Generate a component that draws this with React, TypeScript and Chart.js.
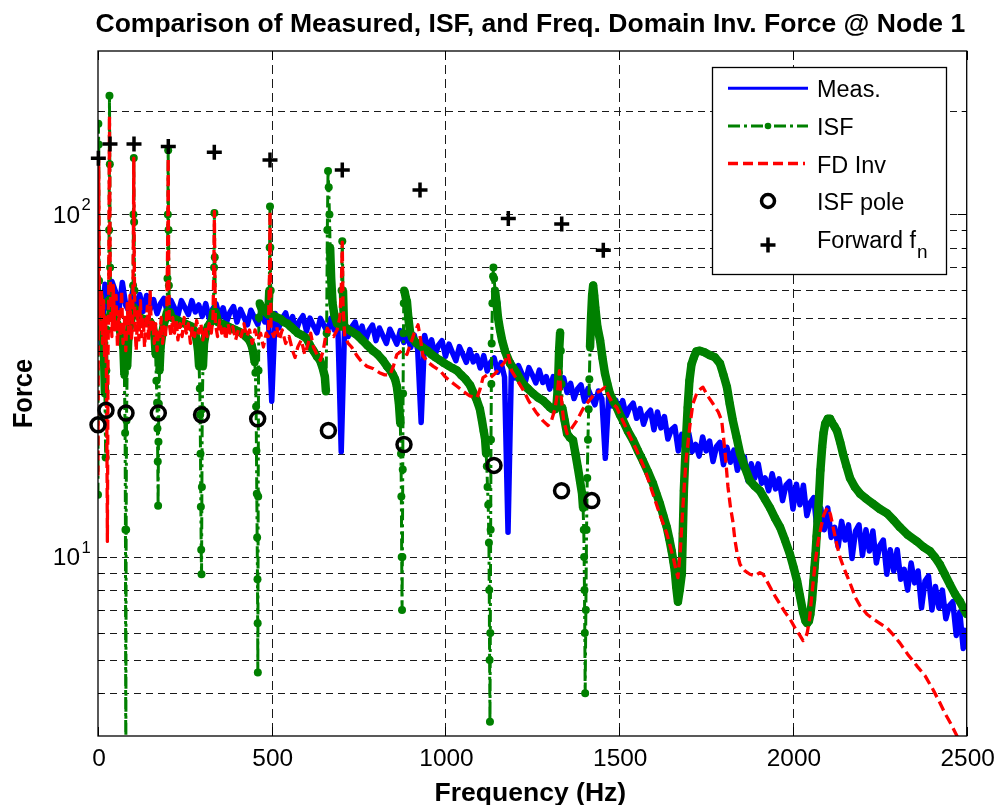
import React, { useEffect, useRef } from "react";
import { Chart, registerables } from "chart.js";
Chart.register(...registerables);

const W = 995;
const H = 805;
const FONT = '"Liberation Sans", Arial, Helvetica, sans-serif';
const SX = 1.04;

const TITLE = "Comparison of Measured, ISF, and Freq. Domain Inv. Force @ Node 1";
const X_LABEL = "Frequency (Hz)";
const Y_LABEL = "Force";
const SERIES = ["Meas.", "ISF", "FD Inv", "ISF pole", "Forward f"];
const FWD_SUB = "n";

const X_MIN = 0;
const X_MAX = 2500;
const X_TICKS = [0, 500, 1000, 1500, 2000, 2500];
const Y_MIN = 3;
const Y_MAX = 300;
const Y_MAJOR = [10, 100];
const Y_GRID = [4, 5, 6, 7, 8, 9, 10, 20, 30, 40, 50, 60, 70, 80, 90, 100, 200];

// Measured force: uniform frequency bins (0, 10, 20, ... 2500 Hz)
const MEAS_F0 = 0;
const MEAS_DF = 10;
const MEAS_V = [
  63.8, 40, 62.5, 53.1, 63.7, 59.7, 52.2, 63.3, 54.2, 52,
  59.9, 51.9, 58.4, 52.1, 58, 52.8, 56.4, 51.3, 54.9, 56.9,
  51.3, 56.1, 53.3, 50.7, 56, 53.5, 51, 56, 51.9, 54.4,
  50.4, 54.9, 49.7, 52.9, 54.8, 49.9, 53.4, 48.5, 51.9, 53.8,
  48.5, 52.8, 50.1, 47.6, 52.5, 50, 47.7, 52.3, 48.5, 50.8,
  28.5, 51.4, 46.6, 49.7, 51.6, 47, 50.3, 45.7, 48.9, 50.6,
  45.6, 49.8, 47.3, 45.1, 49.7, 47.5, 45.3, 49.7, 46, 48.3,
  20.3, 48.7, 44, 46.9, 48.5, 44.2, 47.2, 42.9, 45.9, 47.5,
  42.8, 46.6, 44.2, 42, 46.2, 44, 41.8, 45.8, 42.3, 44.3,
  40.9, 44.5, 40.3, 24.7, 44.3, 40.3, 43, 38.9, 41.5, 42.8,
  38.5, 41.8, 39.5, 37.4, 41.1, 39, 37, 40.3, 37.1, 38.7,
  35.6, 38.7, 34.9, 37, 38.1, 34.6, 36.9, 33.5, 11.8, 37,
  33.3, 36.2, 34.3, 32.5, 35.7, 34, 32.2, 35.1, 32.3, 33.6,
  30.9, 33.6, 30.3, 32.2, 33.3, 30.2, 32.1, 29, 30.9, 31.8,
  28.5, 31, 29.3, 27.8, 30.5, 29, 19.4, 29.9, 27.6, 28.7,
  26.4, 28.6, 25.8, 27.3, 28.1, 25.4, 27.1, 24.4, 26.1, 26.8,
  23.5, 26.5, 23.8, 25.7, 22.1, 23.5, 24, 20.4, 22.8, 20.8,
  23, 20.3, 21.3, 19.7, 22.4, 20.4, 21.8, 19, 21, 21.6,
  18.6, 20.9, 18.9, 20.5, 17.9, 19.1, 19.6, 16.7, 18.7, 17,
  18.7, 16.4, 17, 15.6, 17.5, 15.8, 16.9, 14.6, 16.2, 16.6,
  13.8, 16.3, 14.2, 16.2, 13.2, 14.4, 14.9, 11.8, 13.9, 12,
  13.9, 11.4, 12.2, 10.7, 12.7, 11.2, 12.4, 9.9, 11.9, 12.4,
  10.1, 12, 10.4, 11.9, 9.6, 10.8, 11.2, 8.9, 10.5, 9.1,
  10.5, 8.6, 9.2, 8, 9.6, 8.4, 9.1, 7.1, 8.5, 8.8,
  7, 8.2, 7.1, 8, 6.6, 7.2, 7.4, 5.9, 6.9, 5.4,
  6.2,
];

// ISF force [frequency Hz, force]
const ISF_PTS: [number, number][] = [
  [0, 15.2], [1, 184], [2, 160], [3, 64], [5, 58], [8, 52], [11, 48], [14, 45], [17, 40], [20, 30], [22, 19.5], [24, 35], [26, 46], [28, 50], [30, 56], [32, 90], [33, 222], [34, 140], [35, 70], [37, 56],
  [40, 52], [45, 50], [50, 49], [55, 48], [60, 47], [65, 45], [70, 43], [73, 41], [76, 34], [78, 23], [79, 12], [80, 2], [81, 12], [82, 25], [84, 36], [87, 43], [91, 47], [95, 49], [99, 52], [101, 62], [102, 100], [103, 146], [104, 95], [105, 60], [107, 53],
  [112, 51], [120, 50], [130, 49.5], [140, 49], [150, 48.5], [158, 47], [163, 44], [166, 39], [168, 32.7], [170, 28.2], [171, 23.7], [172, 19], [173, 14.1], [174, 21.7], [175, 28], [177, 35], [180, 41], [185, 45], [190, 48], [195, 50], [199, 52], [200, 65], [201, 100], [202, 154], [203, 90], [204, 62], [206, 52],
  [212, 50], [220, 49.5], [230, 49], [240, 48.5], [250, 48], [260, 47.5], [270, 47], [278, 45.5], [284, 43], [288, 40], [291, 36], [293, 31], [294, 26], [295, 20], [296, 14], [297, 10.5], [298, 8.9], [299, 16], [300, 27], [302, 36], [305, 42], [310, 45], [316, 47], [322, 48], [328, 49], [332, 52], [334, 70], [335, 101], [336, 75], [338, 52],
  [345, 48.5], [355, 48], [365, 47.5], [375, 47], [385, 46.5], [395, 46], [405, 45.5], [415, 45], [425, 44], [435, 43], [442, 41.5], [447, 39.5], [451, 37], [453, 34.5], [455, 27.5], [456, 20.4], [457, 15.3], [458, 11.4], [459, 8.6], [459.5, 6.4], [460, 4.6], [461, 15], [462, 35], [463, 50], [465, 55], [468, 54], [473, 52.5], [480, 52], [486, 51.5], [490, 51], [493, 60], [494, 80], [495, 105.5], [496, 80], [497, 60], [499, 51],
  [505, 50.5], [515, 50], [525, 49.5], [535, 48.5], [545, 48], [555, 47], [565, 46], [575, 45], [585, 44.5], [600, 43.5], [610, 41.5], [620, 40], [630, 38.5], [639, 37.5], [647, 35.5], [653, 33.5], [656, 30.4], [658, 45], [660, 90], [662, 134], [664, 120], [666, 100], [668, 80], [671, 65], [675, 55], [680, 51], [688, 48], [694, 47.5], [699, 47], [701, 60], [703, 83.5], [705, 60], [708, 47],
  [715, 46.5], [730, 45.5], [745, 44.5], [760, 43], [775, 41.5], [791, 40], [805, 39], [820, 37.5], [832, 36], [842, 35], [849, 34], [855, 33], [860, 31.5], [866, 28], [870, 24.5], [872, 20], [873, 15], [874, 10], [875, 7], [876, 10], [877, 18], [878, 30], [879, 45], [880, 55], [881, 60], [883, 59], [886, 57], [889, 55.7], [893, 50], [898, 45.3], [905, 43.5], [915, 42.2], [925, 41.5], [935, 40.8], [948, 40], [960, 39], [972, 38.2], [984, 37.5], [996, 36.8], [1008, 36.2], [1020, 35.6], [1033, 35], [1045, 34], [1058, 33], [1071, 31.7], [1080, 30.2], [1090, 28.7], [1099, 27], [1105, 25], [1110, 23.3], [1114, 22.1], [1117, 20], [1119, 18.4], [1121, 16], [1123, 14.2], [1125, 11], [1126, 8], [1127, 5], [1128, 3.3],
  [1129, 6], [1130, 12], [1131, 22], [1132, 32], [1133, 42], [1135, 55], [1137, 66], [1138, 70], [1140, 65], [1142.5, 60], [1147, 55], [1151, 50], [1157, 46], [1163, 42.9], [1171, 40], [1178, 38.3], [1186, 36.7], [1196, 35.5], [1206, 34.3], [1215, 33], [1223, 32], [1237, 31], [1252, 30], [1266, 29.2], [1281, 28.6], [1292, 27.9], [1301, 27.3], [1308, 27], [1315, 27], [1320, 28], [1324, 32], [1327, 40], [1330, 45.3], [1332, 40], [1334, 32], [1336, 27.3], [1343, 25], [1350, 22.9], [1358, 22.3], [1367, 21.9], [1374, 20], [1381, 18.2], [1387, 16.7], [1393, 15.3], [1396, 13.9], [1398, 12], [1399, 10], [1400, 8], [1401, 6], [1402, 4], [1404, 7], [1406, 12], [1408, 17], [1410, 22], [1412, 27], [1414, 33], [1416, 40.9], [1419, 50], [1422, 58], [1425, 62], [1428, 58], [1431, 53.6], [1437, 47], [1445, 42.9], [1452, 38], [1459, 34.3], [1466, 32], [1473, 30], [1483, 28.5], [1493, 27.3], [1502, 26], [1511, 25], [1525, 23.3], [1540, 21.9], [1554, 20.4], [1568, 19.1], [1583, 17.7], [1597, 16.4], [1607, 15.3], [1617, 14.3], [1627, 13.2], [1637, 12.2], [1644, 11.3], [1651, 10.4], [1656, 9.7], [1660, 9.1], [1664, 8.2], [1669, 7.4], [1674, 8], [1680, 8.9], [1683, 11.7], [1686, 15.6], [1692, 21.9], [1697, 27.3], [1702, 32.7], [1708, 36.5], [1715, 38.3], [1722, 39.8], [1732, 40], [1745, 39.6], [1761, 38.8], [1775, 38.3], [1790, 36.7], [1800, 34], [1810, 31.3], [1818, 28], [1827, 25], [1838, 22.3], [1848, 20], [1862, 18.2], [1876, 16.7], [1890, 16.1], [1905, 15.6], [1920, 14.7], [1934, 13.9], [1948, 13], [1963, 12.2], [1977, 11.2], [1991, 10.2], [2002, 9.3], [2012, 8.5], [2020, 7.7], [2029, 6.9], [2036, 6.5], [2041, 6.4], [2046, 6.5], [2050, 6.8], [2055, 7.5], [2059, 8.5], [2062, 9.3], [2065, 10.2], [2068, 11.5], [2071, 12.7], [2075, 15], [2079, 17.9], [2084, 20.9], [2088, 23], [2093, 24.5], [2100, 25.3], [2107, 25.3], [2113, 24.6], [2120, 24], [2127, 23.3], [2136, 21.6], [2144, 20], [2154, 18.4], [2164, 17], [2178, 16], [2193, 15.3], [2210, 14.8], [2230, 14.3], [2250, 13.8], [2271, 13.4], [2290, 12.8], [2308, 12.2], [2330, 11.6], [2357, 11.1], [2375, 10.7], [2394, 10.4], [2408, 10], [2423, 9.5], [2437, 8.9], [2452, 8.3], [2466, 7.8], [2481, 7.4], [2490, 7.1], [2500, 6.8],
];

// Frequency-domain inverse force [frequency Hz, force]
const FD_PTS: [number, number][] = [
  [0, 17.3], [2, 146], [4, 58], [7, 45], [10, 60], [13, 42], [16, 56], [19, 38], [22, 50], [25, 30], [27, 11.1], [29, 40], [31, 60], [33, 194], [35, 70], [37, 52], [40, 44], [44, 62], [48, 46], [52, 58], [56, 41], [60, 52], [64, 44], [68, 60], [72, 42], [76, 50], [80, 40], [84, 55], [88, 45], [92, 58], [96, 43], [100, 50], [102, 90], [103, 146], [104, 80], [106, 48],
  [110, 40], [114, 52], [118, 43], [122, 56], [126, 44], [130, 50], [134, 41], [138, 47], [142, 54], [146, 43], [150, 60], [154, 45], [158, 49], [162, 42], [166, 48], [170, 40], [174, 46], [178, 44], [182, 50], [186, 42], [190, 47], [194, 44], [198, 52], [201, 90], [202, 146], [203, 80], [205, 48],
  [210, 44], [215, 50], [220, 45], [225, 49], [230, 43], [236, 48], [242, 44], [248, 50], [254, 45], [260, 48], [266, 42], [272, 47], [278, 44], [284, 49], [290, 45], [296, 48], [302, 43], [308, 47], [314, 44], [320, 48], [326, 45], [331, 50], [334, 80], [335, 102], [336, 70], [338, 48],
  [344, 44], [350, 49], [356, 45], [362, 47], [368, 43], [374, 48], [380, 45], [388, 47], [396, 43], [404, 46], [412, 44], [420, 48], [428, 44], [436, 46], [444, 42], [452, 46], [460, 43], [468, 45], [476, 41], [484, 45], [490, 44], [494, 70], [495, 102], [496, 70], [498, 46],
  [506, 44], [514, 47], [522, 43], [530, 46], [540, 42], [550, 44], [560, 40], [567, 38.2], [575, 41], [585, 43], [595, 39], [605, 42], [612, 45], [620, 41], [630, 39], [640, 37.5], [648, 40], [655, 44], [660, 46.5], [668, 45], [678, 44], [688, 46], [696, 50], [700, 60], [703, 83], [705, 55], [710, 44],
  [720, 42], [730, 41], [745, 38.7], [760, 37], [774, 36], [791, 35.5], [810, 34.5], [825, 34], [840, 34], [850, 36], [860, 39], [875, 40], [889, 39], [900, 42], [910, 45], [921, 47.6], [927, 44], [935, 38.7], [950, 37], [965, 36], [984, 35], [1000, 33.5], [1015, 32.5], [1033, 31.5], [1050, 30.5], [1070, 29.5], [1091, 29.2], [1100, 31], [1108, 33.4], [1120, 34], [1130, 33.4], [1145, 34.5], [1157, 35.8], [1170, 37], [1180, 39.2], [1190, 35],
  [1205, 33], [1223, 30.8], [1240, 28.5], [1260, 26.5], [1280, 25], [1295, 24.2], [1305, 25], [1315, 27], [1322, 30], [1328, 35], [1332, 30], [1340, 25], [1350, 22.9], [1360, 23.5], [1378, 25], [1395, 27], [1412, 28.5], [1430, 30], [1445, 30.5], [1459, 31.3], [1470, 29.5], [1482, 28], [1493, 27.3], [1510, 25], [1531, 22.5], [1550, 20.5], [1574, 18], [1595, 15.5], [1617, 13.3], [1637, 11.7], [1655, 10], [1663, 9.2], [1669, 8.7], [1676, 10.5], [1683, 13.9], [1692, 19], [1703, 24], [1712, 28], [1724, 30.2], [1735, 31], [1741, 31.3], [1755, 29.5], [1770, 28], [1785, 26.5], [1795, 25],
  [1805, 20], [1813, 16], [1820, 14], [1827, 12.7], [1833, 11.2], [1839, 10.3], [1848, 9.5], [1862, 9.1], [1876, 8.9], [1891, 8.8], [1905, 9], [1914, 8.9], [1925, 8.5], [1936, 8.1], [1948, 7.7], [1962, 7.3], [1977, 6.9], [1991, 6.6], [2006, 6.2], [2020, 5.9], [2029, 5.7], [2036, 5.8], [2041, 6], [2047, 6.5], [2053, 7.5], [2059, 8.6], [2065, 9.8], [2072, 11], [2079, 12], [2088, 13.2], [2095, 13.7], [2101, 13.9], [2108, 13.3], [2115, 12.3], [2125, 11], [2135, 10], [2148, 9.2], [2164, 8.4], [2180, 7.6], [2193, 7.2], [2213, 6.8], [2230, 6.6], [2250, 6.4], [2271, 6.2], [2290, 5.9], [2308, 5.6], [2330, 5.2], [2357, 4.8], [2380, 4.5], [2403, 4.1], [2420, 3.8], [2437, 3.5], [2455, 3.25], [2472, 3], [2486, 2.8], [2500, 2.6],
];

const POLE_F = [0, 23, 80.6, 173.5, 298, 459.5, 663, 880.6, 1139.6, 1334, 1421];
const POLE_V = [24.3, 26.8, 26.3, 26.3, 26.0, 25.3, 23.4, 21.3, 18.5, 15.6, 14.6];

const FWD_F = [1, 34.5, 103.6, 202.3, 334.7, 495, 703, 926.7, 1180.8, 1334.5, 1454.2];
const FWD_V = [145.9, 160.6, 160.6, 157.8, 151.9, 144.2, 134.8, 117.8, 97.3, 93.7, 78.6];

const BLUE = "#0000ff";
const GREEN = "#008000";
const RED = "#ff0000";
const BLACK = "#000000";
const ISF_DASH = [12, 4, 3, 4];
const FD_DASH = [10, 5];

function drawText(
  ctx: CanvasRenderingContext2D,
  s: string,
  x: number,
  y: number,
  font: string,
  align: "left" | "center" | "right",
  sx: number = SX
) {
  ctx.save();
  ctx.font = font;
  ctx.textBaseline = "alphabetic";
  ctx.textAlign = "left";
  const w = ctx.measureText(s).width * sx;
  const x0 = align === "left" ? x : align === "center" ? x - w / 2 : x - w;
  ctx.translate(x0, y);
  ctx.scale(sx, 1);
  ctx.fillStyle = BLACK;
  ctx.fillText(s, 0, 0);
  ctx.restore();
}

const isThin = (c: any) =>
  Math.abs(c.p1.x - c.p0.x) < 1.0 && Math.abs(c.p1.y - c.p0.y) > 6;

const decorPlugin = {
  id: "matlabDecor",
  beforeDraw(chart: any) {
    const ctx = chart.ctx;
    ctx.save();
    ctx.fillStyle = "#ffffff";
    ctx.fillRect(0, 0, chart.width, chart.height);
    ctx.restore();
  },
  beforeDatasetsDraw(chart: any) {
    const { ctx, chartArea: a, scales } = chart;
    const xs = scales.x;
    const ys = scales.y;
    ctx.save();
    ctx.strokeStyle = "#1a1a1a";
    ctx.lineWidth = 1;
    ctx.setLineDash([7, 5]);
    for (const v of Y_GRID) {
      const y = Math.round(ys.getPixelForValue(v)) + 0.5;
      ctx.beginPath();
      ctx.moveTo(a.left, y);
      ctx.lineTo(a.right, y);
      ctx.stroke();
    }
    ctx.setLineDash([9, 5]);
    for (const f of X_TICKS) {
      if (f === X_MIN || f === X_MAX) continue;
      const x = Math.round(xs.getPixelForValue(f)) + 0.5;
      ctx.beginPath();
      ctx.moveTo(x, a.top);
      ctx.lineTo(x, a.bottom);
      ctx.stroke();
    }
    ctx.restore();
  },
  afterDatasetsDraw(chart: any) {
    const { ctx, chartArea: a, scales } = chart;
    const xs = scales.x;
    const ys = scales.y;
    ctx.save();
    ctx.strokeStyle = BLACK;
    ctx.lineWidth = 1.3;
    ctx.setLineDash([]);
    ctx.strokeRect(a.left, a.top, a.right - a.left, a.bottom - a.top);
    ctx.lineWidth = 1;
    for (const v of Y_GRID) {
      const y = Math.round(ys.getPixelForValue(v)) + 0.5;
      const len = Y_MAJOR.includes(v) ? 9 : 5;
      ctx.beginPath();
      ctx.moveTo(a.left, y);
      ctx.lineTo(a.left + len, y);
      ctx.moveTo(a.right, y);
      ctx.lineTo(a.right - len, y);
      ctx.stroke();
    }
    for (const f of X_TICKS) {
      const x = Math.round(xs.getPixelForValue(f)) + 0.5;
      ctx.beginPath();
      ctx.moveTo(x, a.bottom);
      ctx.lineTo(x, a.bottom - 9);
      ctx.moveTo(x, a.top);
      ctx.lineTo(x, a.top + 9);
      ctx.stroke();
    }
    ctx.restore();

    for (const f of X_TICKS) {
      drawText(ctx, String(f), xs.getPixelForValue(f) + 1, a.bottom + 30, `23.5px ${FONT}`, "center");
    }
    for (const v of Y_MAJOR) {
      const y = ys.getPixelForValue(v);
      drawText(ctx, "10", a.left - 18, y + 8.5, `23.5px ${FONT}`, "right");
      drawText(ctx, String(Math.round(Math.log10(v))), a.left - 16.5, y - 4, `16px ${FONT}`, "left");
    }

    const cx = (a.left + a.right) / 2 - 2;
    drawText(ctx, TITLE, cx, 32, `bold 25.5px ${FONT}`, "center");
    drawText(ctx, X_LABEL, cx, 801, `bold 25.5px ${FONT}`, "center");
    ctx.save();
    ctx.translate(32, (a.top + a.bottom) / 2);
    ctx.rotate(-Math.PI / 2);
    ctx.scale(1, 1.08);
    ctx.font = `bold 25.5px ${FONT}`;
    ctx.textAlign = "center";
    ctx.textBaseline = "alphabetic";
    ctx.fillStyle = BLACK;
    ctx.fillText(Y_LABEL, 0, 0);
    ctx.restore();

    // legend
    const L = { left: 712, top: 67, right: 946, bottom: 274 };
    ctx.save();
    ctx.fillStyle = "#ffffff";
    ctx.fillRect(L.left, L.top, L.right - L.left, L.bottom - L.top);
    ctx.strokeStyle = BLACK;
    ctx.lineWidth = 1.3;
    ctx.strokeRect(L.left + 0.5, L.top + 0.5, L.right - L.left, L.bottom - L.top);
    const x1 = 728;
    const x2 = 808;
    const xm = 768;
    const rowY = [88.3, 126, 163.5, 201, 245];
    const baseY = [97.3, 135.3, 172.5, 210.3, 247.5];
    ctx.strokeStyle = BLUE;
    ctx.lineWidth = 3;
    ctx.beginPath();
    ctx.moveTo(x1, rowY[0]);
    ctx.lineTo(x2, rowY[0]);
    ctx.stroke();
    ctx.strokeStyle = GREEN;
    ctx.setLineDash(ISF_DASH);
    ctx.beginPath();
    ctx.moveTo(x1, rowY[1]);
    ctx.lineTo(x2, rowY[1]);
    ctx.stroke();
    ctx.setLineDash([]);
    ctx.fillStyle = GREEN;
    ctx.beginPath();
    ctx.arc(xm, rowY[1], 3.3, 0, Math.PI * 2);
    ctx.fill();
    ctx.strokeStyle = RED;
    ctx.lineWidth = 3.3;
    ctx.setLineDash(FD_DASH);
    ctx.beginPath();
    ctx.moveTo(x1, rowY[2]);
    ctx.lineTo(x2 - 3, rowY[2]);
    ctx.stroke();
    ctx.setLineDash([]);
    ctx.strokeStyle = BLACK;
    ctx.lineWidth = 3.5;
    ctx.beginPath();
    ctx.arc(xm, rowY[3], 6.5, 0, Math.PI * 2);
    ctx.stroke();
    ctx.beginPath();
    ctx.moveTo(xm - 7.5, rowY[4]);
    ctx.lineTo(xm + 7.5, rowY[4]);
    ctx.moveTo(xm, rowY[4] - 7.5);
    ctx.lineTo(xm, rowY[4] + 7.5);
    ctx.stroke();
    ctx.restore();
    const lf = `23px ${FONT}`;
    for (let i = 0; i < SERIES.length; i++) {
      drawText(ctx, SERIES[i], 817, baseY[i], lf, "left", 1.02);
    }
    ctx.save();
    ctx.font = lf;
    const fw = ctx.measureText(SERIES[4]).width * 1.02;
    ctx.restore();
    drawText(ctx, FWD_SUB, 817 + fw + 1, 258, `19px ${FONT}`, "left", 1.0);
  },
};

export default function App() {
  const ref = useRef<HTMLCanvasElement | null>(null);
  useEffect(() => {
    if (!ref.current) return;
    const chart = new Chart(ref.current, {
      type: "line",
      data: {
        datasets: [
          {
            label: SERIES[0],
            data: MEAS_V.map((v, i) => ({ x: MEAS_F0 + i * MEAS_DF, y: v })),
            borderColor: BLUE,
            backgroundColor: BLUE,
            borderWidth: 5.5,
            borderJoinStyle: "round",
            pointRadius: 0,
            order: 5,
          },
          {
            label: SERIES[1],
            data: ISF_PTS.map(([x, y]) => ({ x, y })),
            borderColor: GREEN,
            backgroundColor: GREEN,
            borderWidth: 3,
            borderDash: ISF_DASH,
            borderJoinStyle: "round",
            pointRadius: 4,
            pointBorderWidth: 0,
            pointBackgroundColor: GREEN,
            segment: {
              borderWidth: (c: any) => (isThin(c) ? 3 : 8.5),
              borderDash: (c: any) => (isThin(c) ? ISF_DASH : []),
            },
            order: 4,
          },
          {
            label: SERIES[2],
            data: FD_PTS.map(([x, y]) => ({ x, y })),
            borderColor: RED,
            backgroundColor: RED,
            borderWidth: 3.3,
            borderDash: FD_DASH,
            borderJoinStyle: "round",
            pointRadius: 0,
            order: 3,
          },
          {
            label: SERIES[3],
            data: POLE_F.map((f, i) => ({ x: f, y: POLE_V[i] })),
            showLine: false,
            pointStyle: "circle",
            pointRadius: 7,
            pointBorderWidth: 3.5,
            pointBorderColor: BLACK,
            pointBackgroundColor: "rgba(0,0,0,0)",
            borderColor: BLACK,
            clip: false as any,
            order: 2,
          },
          {
            label: SERIES[4] + FWD_SUB,
            data: FWD_F.map((f, i) => ({ x: f, y: FWD_V[i] })),
            showLine: false,
            pointStyle: "cross",
            pointRadius: 7.5,
            pointBorderWidth: 3.5,
            pointBorderColor: BLACK,
            borderColor: BLACK,
            clip: false as any,
            order: 1,
          },
        ],
      } as any,
      options: {
        animation: false,
        responsive: false,
        events: [],
        layout: { padding: { left: 98, right: W - 966.7, top: 51, bottom: H - 736 } },
        scales: {
          x: { type: "linear", min: X_MIN, max: X_MAX, display: false },
          y: { type: "logarithmic", min: Y_MIN, max: Y_MAX, display: false },
        },
        plugins: {
          legend: { display: false },
          title: { display: false },
          tooltip: { enabled: false },
        },
      } as any,
      plugins: [decorPlugin],
    });
    return () => chart.destroy();
  }, []);
  return (
    <div style={{ position: "absolute", left: 0, top: 0, width: W, height: H, background: "#fff" }}>
      <canvas ref={ref} width={W} height={H} style={{ display: "block", width: W, height: H }} />
    </div>
  );
}
